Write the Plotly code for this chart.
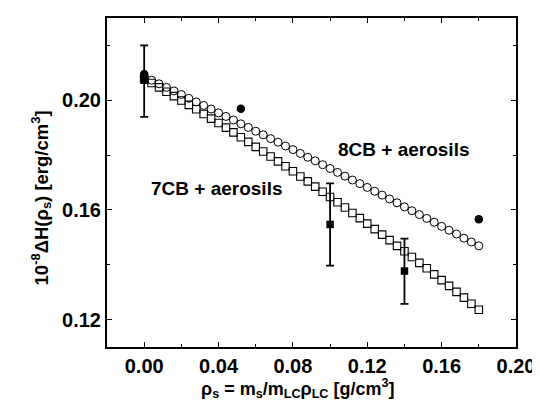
import plotly.graph_objects as go

# model curves (open symbols), x in g/cm^3
x_model = [0.000, 0.004, 0.008, 0.012, 0.016, 0.020, 0.024, 0.028, 0.032, 0.036,
           0.040, 0.044, 0.048, 0.052, 0.056, 0.060, 0.064, 0.068, 0.072, 0.076,
           0.080, 0.084, 0.088, 0.092, 0.096, 0.100, 0.104, 0.108, 0.112, 0.116,
           0.120, 0.124, 0.128, 0.132, 0.136, 0.140, 0.144, 0.148, 0.152, 0.156,
           0.160, 0.164, 0.168, 0.172, 0.176, 0.180]

y_8cb_model = [0.2086, 0.2073, 0.2060, 0.2047, 0.2034, 0.2021, 0.2007, 0.1994, 0.1981, 0.1968,
               0.1954, 0.1941, 0.1928, 0.1914, 0.1901, 0.1887, 0.1874, 0.1860, 0.1847, 0.1833,
               0.1820, 0.1806, 0.1792, 0.1779, 0.1765, 0.1751, 0.1737, 0.1723, 0.1709, 0.1696,
               0.1682, 0.1668, 0.1654, 0.1640, 0.1626, 0.1611, 0.1597, 0.1583, 0.1569, 0.1555,
               0.1540, 0.1526, 0.1512, 0.1497, 0.1483, 0.1469]

y_7cb_model = [0.2078, 0.2063, 0.2047, 0.2031, 0.2015, 0.1999, 0.1983, 0.1967, 0.1950, 0.1933,
               0.1917, 0.1900, 0.1883, 0.1865, 0.1848, 0.1830, 0.1813, 0.1795, 0.1777, 0.1759,
               0.1741, 0.1722, 0.1704, 0.1685, 0.1666, 0.1647, 0.1628, 0.1609, 0.1589, 0.1570,
               0.1550, 0.1530, 0.1510, 0.1490, 0.1469, 0.1449, 0.1428, 0.1407, 0.1387, 0.1365,
               0.1344, 0.1323, 0.1301, 0.1280, 0.1258, 0.1236]

# experimental data (filled symbols)
x_8cb = [0.000, 0.052, 0.180]
y_8cb = [0.2096, 0.1969, 0.1566]

x_7cb = [0.000, 0.100, 0.140]
y_7cb = [0.2073, 0.1547, 0.1377]
err_7cb_plus = [0.0127, 0.0150, 0.0118]
err_7cb_minus = [0.0134, 0.0150, 0.0120]

x_ticks = [0.00, 0.04, 0.08, 0.12, 0.16, 0.20]
x_tick_labels = ["0.00", "0.04", "0.08", "0.12", "0.16", "0.20"]
y_ticks = [0.12, 0.16, 0.20]
y_tick_labels = ["0.12", "0.16", "0.20"]

x_title = "<b>ρ<sub>s</sub> = m<sub>s</sub>/m<sub>LC</sub>ρ<sub>LC</sub> [g/cm<sup>3</sup>]</b>"
y_title = "<b>10<sup>-8</sup>ΔH(ρ<sub>s</sub>) [erg/cm<sup>3</sup>]</b>"

FONT = "Liberation Sans, Arial, sans-serif"

fig = go.Figure()

fig.add_trace(go.Scatter(
    x=x_model, y=y_8cb_model, mode="markers",
    marker=dict(symbol="circle-open", size=8, color="black", line=dict(width=1)),
    showlegend=False))
fig.add_trace(go.Scatter(
    x=x_model, y=y_7cb_model, mode="markers",
    marker=dict(symbol="square-open", size=7.5, color="black", line=dict(width=1.1)),
    showlegend=False))
fig.add_trace(go.Scatter(
    x=x_7cb, y=y_7cb, mode="markers",
    marker=dict(symbol="square", size=7.5, color="black"),
    error_y=dict(type="data", symmetric=False, array=err_7cb_plus,
                 arrayminus=err_7cb_minus, color="black", thickness=1.8, width=4),
    showlegend=False))
fig.add_trace(go.Scatter(
    x=x_8cb, y=y_8cb, mode="markers",
    marker=dict(symbol="circle", size=8.5, color="black"),
    showlegend=False))

fig.add_annotation(x=0.140, y=0.1822, text="<b>8CB + aerosils</b>", showarrow=False,
                   font=dict(family=FONT, size=19, color="black"))
fig.add_annotation(x=0.039, y=0.1677, text="<b>7CB + aerosils</b>", showarrow=False,
                   font=dict(family=FONT, size=19, color="black"))

# axis titles placed as paper annotations
fig.add_annotation(xref="paper", yref="paper", x=0.466, y=-0.127,
                   xanchor="center", yanchor="middle", text=x_title, showarrow=False,
                   font=dict(family=FONT, size=18, color="black"))
fig.add_annotation(xref="paper", yref="paper", x=-0.161, y=0.452,
                   xanchor="center", yanchor="middle", text=y_title, showarrow=False,
                   textangle=-90, font=dict(family=FONT, size=18.5, color="black"))

axis_common = dict(
    showline=True, linewidth=2, linecolor="black", mirror="allticks",
    ticks="inside", ticklen=5, tickwidth=1.2, tickcolor="black",
    showgrid=False, zeroline=False,
    tickfont=dict(family=FONT, size=20, color="black", weight="bold"),
)

fig.update_xaxes(
    range=[-0.02, 0.20], tickvals=x_ticks, ticktext=x_tick_labels,
    minor=dict(ticks="inside", dtick=0.02, tick0=0, ticklen=3, tickcolor="black", tickwidth=1),
    **axis_common)
fig.update_yaxes(
    range=[0.11, 0.23], tickvals=y_ticks, ticktext=y_tick_labels,
    minor=dict(ticks="inside", dtick=0.02, tick0=0, ticklen=3, tickcolor="black", tickwidth=1),
    **axis_common)

fig.update_layout(
    width=540, height=401,
    margin=dict(l=99, r=32, t=8, b=62),
    plot_bgcolor="white", paper_bgcolor="white",
    font=dict(family=FONT, color="black"),
)

fig.write_html("out.html")
